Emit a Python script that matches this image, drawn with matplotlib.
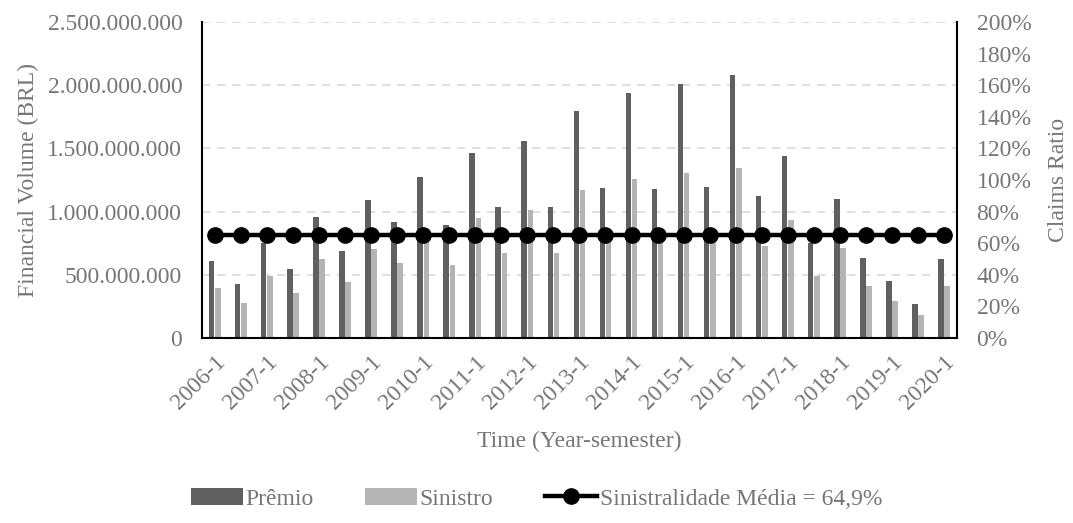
import matplotlib
matplotlib.use("Agg")
import matplotlib.pyplot as plt
import numpy as np
from matplotlib.ticker import FuncFormatter

# Data
periods = [f"{y}-{s}" for y in range(2006, 2021) for s in (1, 2)][:29]
premio = [608e6, 426e6, 754e6, 548e6, 958e6, 690e6, 1090e6, 915e6, 1270e6, 892e6,
          1462e6, 1034e6, 1558e6, 1037e6, 1799e6, 1188e6, 1934e6, 1180e6, 2011e6, 1196e6,
          2077e6, 1124e6, 1437e6, 754e6, 1098e6, 630e6, 450e6, 270e6, 627e6]
sinistro = [397e6, 278e6, 489e6, 357e6, 622e6, 444e6, 706e6, 593e6, 770e6, 577e6,
            947e6, 669e6, 1011e6, 675e6, 1167e6, 770e6, 1254e6, 770e6, 1304e6, 780e6,
            1347e6, 730e6, 931e6, 492e6, 714e6, 407e6, 291e6, 177e6, 407e6]
media = 0.649

TXT = "#767676"
plt.rcParams['font.family'] = ['Liberation Serif', 'DejaVu Serif']
plt.rcParams['font.size'] = 17

fig = plt.figure(figsize=(10.73, 5.23), dpi=100)
ax = fig.add_axes([0.188, 0.354, 0.704, 0.604])

x = np.arange(len(periods))
w = 0.21
b1 = ax.bar(x - 0.12, premio, w, color="#606060", label="Prêmio", zorder=2)
b2 = ax.bar(x + 0.12, sinistro, w, color="#b4b4b4", label="Sinistro", zorder=2)

ax.set_xlim(-0.5, len(periods) - 0.5)
ax.set_ylim(0, 2.5e9)
ax.set_yticks(np.arange(0, 2.5e9 + 1, 5e8))
ax.yaxis.set_major_formatter(FuncFormatter(lambda v, p: f"{int(v):,}".replace(",", ".")))
ax.yaxis.grid(True, linestyle=(0, (5, 4)), color="#d9d9d9", linewidth=1.2, zorder=0)
ax.set_axisbelow(True)

ax.set_xticks(x[::2])
ax.set_xticklabels(periods[::2], rotation=45, ha="right", rotation_mode="anchor")
ax.tick_params(axis="both", length=0, colors=TXT)
ax.tick_params(axis="y", pad=14)
ax.tick_params(axis="x", pad=10)

for s in ("left", "bottom", "right"):
    ax.spines[s].set_color("black")
    ax.spines[s].set_linewidth(1.5)
ax.spines["top"].set_visible(False)

ax.set_ylabel("Financial Volume (BRL)", color=TXT, labelpad=6)
ax.set_xlabel("Time (Year-semester)", color=TXT, labelpad=12)

ax2 = ax.twinx()
ax2.set_ylim(0, 2.0)
ax2.set_yticks(np.arange(0, 2.01, 0.2))
ax2.yaxis.set_major_formatter(FuncFormatter(lambda v, p: f"{v*100:.0f}%"))
ax2.tick_params(axis="y", length=0, colors=TXT, pad=14)
for s in ax2.spines.values():
    s.set_visible(False)
ln, = ax2.plot(x, [media] * len(x), color="black", lw=3.2, marker="o", ms=11,
               label="Sinistralidade Média = 64,9%")
ax2.set_ylabel("Claims Ratio", color=TXT, labelpad=12)

leg = fig.legend(handles=[b1, b2, ln], loc="lower center", ncol=3, frameon=False,
                 bbox_to_anchor=(0.5, -0.015), handlelength=2.2, handletextpad=0.1,
                 columnspacing=2.2, fontsize=17)
for t in leg.get_texts():
    t.set_color(TXT)

fig.savefig("out.png", dpi=100)
